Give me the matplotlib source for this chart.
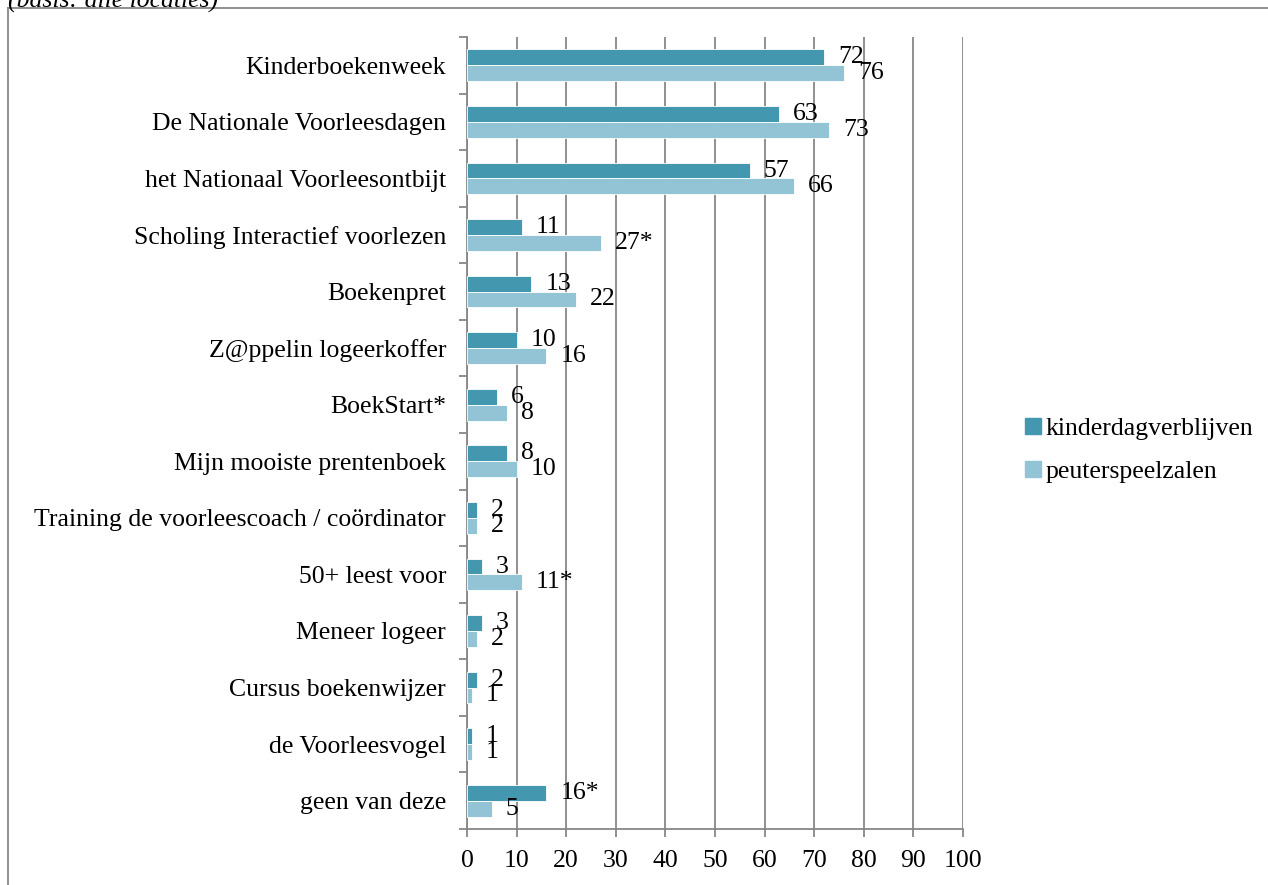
import matplotlib
matplotlib.use("Agg")
import matplotlib.pyplot as plt
import numpy as np
from matplotlib.lines import Line2D

categories = ["Kinderboekenweek", "De Nationale Voorleesdagen", "het Nationaal Voorleesontbijt",
              "Scholing Interactief voorlezen", "Boekenpret", "Z@ppelin logeerkoffer",
              "BoekStart*", "Mijn mooiste prentenboek", "Training de voorleescoach / coördinator",
              "50+ leest voor", "Meneer logeer", "Cursus boekenwijzer", "de Voorleesvogel",
              "geen van deze"]
kdv = [72, 63, 57, 11, 13, 10, 6, 8, 2, 3, 3, 2, 1, 16]
psz = [76, 73, 66, 27, 22, 16, 8, 10, 2, 11, 2, 1, 1, 5]
kdv_labels = ["72", "63", "57", "11", "13", "10", "6", "8", "2", "3", "3", "2", "1", "16*"]
psz_labels = ["76", "73", "66", "27*", "22", "16", "8", "10", "2", "11*", "2", "1", "1", "5"]
series_names = ["kinderdagverblijven", "peuterspeelzalen"]
xticks = list(range(0, 101, 10))

c_dark = "#4398b0"
c_light = "#93c4d6"
grid_c = "#878787"
FS = 18.5

plt.rcParams['font.family'] = ['Liberation Serif', 'DejaVu Serif']

W, H = 1268, 885
fig = plt.figure(figsize=(W / 100, H / 100), dpi=100)
ax = fig.add_axes([467 / W, 1 - 829 / H, (963 - 467) / W, (829 - 37) / H])

n = len(categories)
y = np.arange(n)
bh = 0.28
ax.barh(y - bh / 2, kdv, height=bh, color=c_dark, edgecolor="white", linewidth=0.6, zorder=3)
ax.barh(y + bh / 2, psz, height=bh, color=c_light, edgecolor="white", linewidth=0.6, zorder=3)

for i in range(n):
    ax.annotate(kdv_labels[i], (kdv[i], y[i] - bh / 2), xytext=(10, 0), textcoords="offset points",
                ha="left", va="center", fontsize=FS, zorder=4)
    ax.annotate(psz_labels[i], (psz[i], y[i] + bh / 2), xytext=(10, 0), textcoords="offset points",
                ha="left", va="center", fontsize=FS, zorder=4)

ax.set_xlim(0, 100)
ax.set_ylim(n - 0.5, -0.5)
ax.set_xticks(xticks)
ax.set_xticklabels([str(t) for t in xticks], fontsize=FS)
ax.set_yticks(y)
ax.set_yticklabels(categories, fontsize=FS)
ax.set_yticks(np.arange(-0.5, n, 1), minor=True)
ax.tick_params(axis="y", which="major", length=0, pad=15)
ax.tick_params(axis="y", which="minor", length=6, color=grid_c, width=1.3, direction="out")
ax.tick_params(axis="x", length=6, color=grid_c, width=1.3, direction="out", pad=9)
ax.grid(axis="x", color=grid_c, linewidth=1.3, zorder=0)
for s in ["top", "right"]:
    ax.spines[s].set_visible(False)
for s in ["left", "bottom"]:
    ax.spines[s].set_color(grid_c)
    ax.spines[s].set_linewidth(1.3)

handles = [Line2D([], [], marker="s", linestyle="none", markersize=11, color=c_dark),
           Line2D([], [], marker="s", linestyle="none", markersize=11, color=c_light)]
fig.legend(handles, series_names, loc="center left", bbox_to_anchor=(997 / W, 1 - 450 / H),
           frameon=False, fontsize=FS, handletextpad=0.0, labelspacing=0.8, handlelength=1.0)

# outer frame
fig.add_artist(Line2D([8 / W, 8 / W], [0, 1 - 8 / H], transform=fig.transFigure, color=grid_c, lw=1.3))
fig.add_artist(Line2D([8 / W, 1], [1 - 8 / H, 1 - 8 / H], transform=fig.transFigure, color=grid_c, lw=1.3))
fig.text(8 / W, 1 - 1 / H, "(basis: alle locaties)", fontsize=FS, style="italic", va="center", ha="left")

fig.savefig("out.png", dpi=100)
